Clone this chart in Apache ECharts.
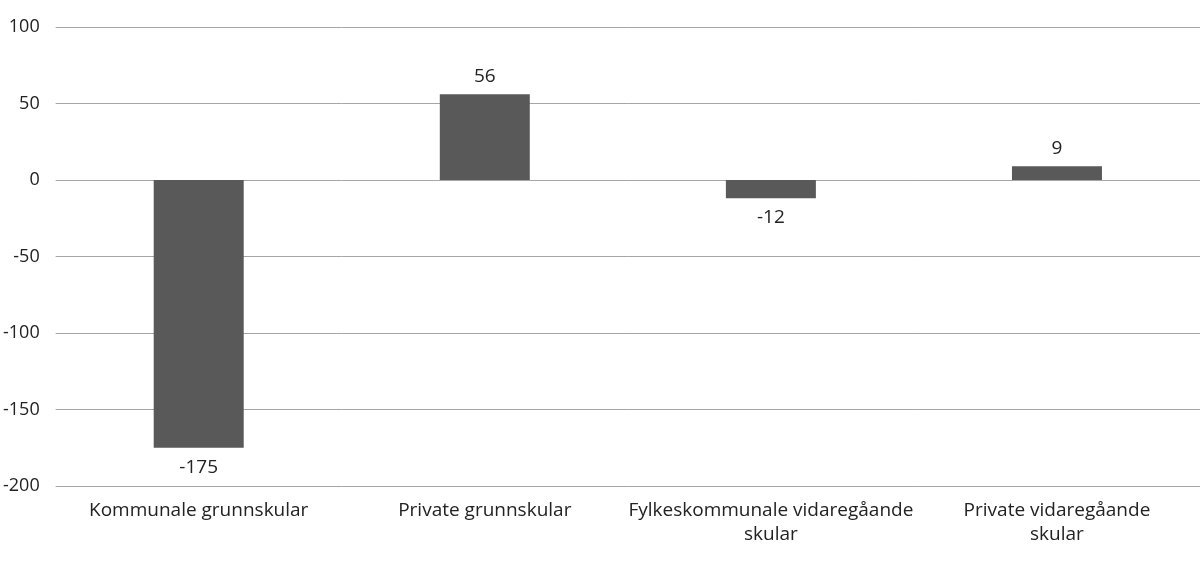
<!DOCTYPE html>
<html><head><meta charset="utf-8">
<script src="https://cdn.jsdelivr.net/npm/echarts@6/dist/echarts.min.js"></script>
<style>html,body{margin:0;padding:0;background:#fff}#c{width:1200px;height:562px}</style>
</head><body><div id="c"></div>
<script>
const categories = ["Kommunale grunnskular", "Private grunnskular", "Fylkeskommunale vidaregåande\nskular", "Private vidaregåande\nskular"];
const values = [-175, 56, -12, 9];
const yTicks = { min: -200, max: 100, interval: 50 };

const chart = echarts.init(document.getElementById('c'));
const font = '"Open Sans", "Noto Sans", sans-serif';
chart.setOption({
  animation: false,
  grid: { left: 54, right: 0, top: 27, bottom: 76, containLabel: false },
  xAxis: {
    type: 'category', data: categories, position: 'bottom',
    axisLine: { show: false }, axisTick: { show: false },
    axisLabel: { color: '#222', fontSize: 19, fontFamily: font, margin: 13, lineHeight: 24, interval: 0 }
  },
  yAxis: {
    type: 'value', min: yTicks.min, max: yTicks.max, interval: yTicks.interval,
    axisLine: { show: false }, axisTick: { show: false },
    axisLabel: { color: '#222', fontSize: 18, fontFamily: font, margin: 16 },
    splitLine: { lineStyle: { color: '#a6a6a6', width: 1 } }
  },
  series: [{
    type: 'bar', barWidth: 90,
    itemStyle: { color: '#595959' },
    data: values.map(v => ({ value: v, label: { position: v < 0 ? 'bottom' : 'top', distance: v < 0 ? 10 : 8 } })),
    label: { show: true, color: '#222', fontSize: 19, fontFamily: font }
  }]
});
</script></body></html>
